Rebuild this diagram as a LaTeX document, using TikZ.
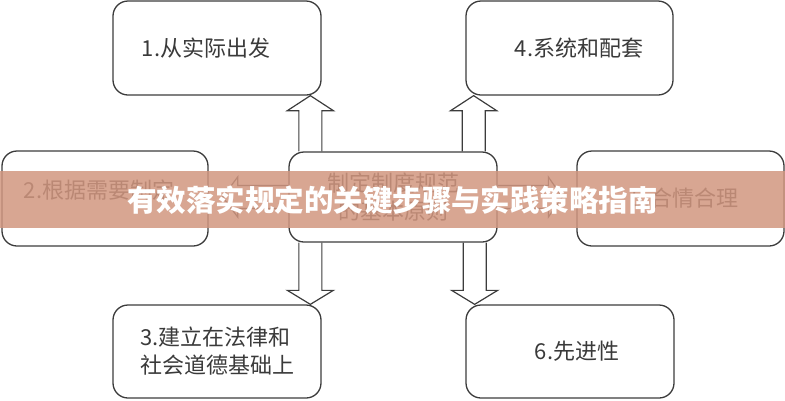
\documentclass[tikz,border=0pt]{standalone}
\usepackage{fontspec}
\setmainfont{Liberation Serif}
\newfontfamily\cjk{Noto Sans CJK SC}
\usetikzlibrary{calc}
\definecolor{ln}{HTML}{3C3C3C}
\definecolor{tx}{HTML}{3A3A3A}
\definecolor{band}{RGB}{209,150,127}
\tikzset{
  box/.style={draw=ln, line width=1.3pt, rounded corners=15pt, minimum width=208pt,
    minimum height=94pt, inner sep=0pt, font=\cjk\fontsize{22}{28}\selectfont, text=tx, align=center},
  barr/.style={draw=ln, line width=1.2pt, line join=miter},
  title/.style={font=\cjk\bfseries\fontsize{29.5}{32}\selectfont, text=white, inner sep=0pt},
}
\newcommand\myUp[2]{\draw[barr] ($(#1)+(-11.5,0)$) -- ($(#2)+(-11.5,15)$) -- ($(#2)+(-23,15)$) -- (#2) -- ($(#2)+(23,15)$) -- ($(#2)+(11.5,15)$) -- ($(#1)+(11.5,0)$);}
\newcommand\myDown[2]{\draw[barr] ($(#1)+(-11.5,0)$) -- ($(#2)+(-11.5,-14)$) -- ($(#2)+(-23,-14)$) -- (#2) -- ($(#2)+(23,-14)$) -- ($(#2)+(11.5,-14)$) -- ($(#1)+(11.5,0)$);}
\newcommand\myLeft[2]{\draw[barr] ($(#1)+(0,-11.5)$) -- ($(#2)+(15,-11.5)$) -- ($(#2)+(15,-20)$) -- (#2) -- ($(#2)+(15,20)$) -- ($(#2)+(15,11.5)$) -- ($(#1)+(0,11.5)$);}
\newcommand\myRight[2]{\draw[barr] ($(#1)+(0,-11.5)$) -- ($(#2)+(-14,-11.5)$) -- ($(#2)+(-14,-20)$) -- (#2) -- ($(#2)+(-14,20)$) -- ($(#2)+(-14,11.5)$) -- ($(#1)+(0,11.5)$);}
\begin{document}
\begin{tikzpicture}[x=1pt,y=-1pt]
\useasboundingbox (0,0) rectangle (785,400);
% boxes
\node[box] (b1) at (217,48) {1.从实际出发\hspace{22pt}};
\node[box, minimum width=207pt] (b4) at (569.5,48) {\hspace{19pt}4.系统和配套};
\node[box, minimum width=206pt, minimum height=95pt] (b2) at (105,198.5) {\raisebox{8pt}[\height][\depth]{2.根据需要制定}\hspace{12pt}};
\node[box, minimum height=90pt] (c) at (393,197) {制定制度规范\\的基本原则};
\node[box, minimum width=207pt, minimum height=95pt] (b5) at (680.5,198.5) {\hspace{9pt}5.合情合理};
\node[box, minimum height=93pt, align=left] (b3) at (217,351.5) {3.建立在法律和\\社会道德基础上};
\node[box, minimum height=93pt] (b6) at (570,351.5) {\hspace{14pt}6.先进性};
% arrow anchor points
\coordinate (u1s) at ([xshift=22pt]c.north west);
\coordinate (u1t) at (u1s |- b1.south);
\coordinate (u2s) at ([xshift=-24pt]c.north east);
\coordinate (u2t) at (u2s |- b4.south);
\coordinate (d1s) at ([xshift=22pt]c.south west);
\coordinate (d1t) at (d1s |- b3.north);
\coordinate (d2s) at ([xshift=-23pt]c.south east);
\coordinate (d2t) at (d2s |- b6.north);
\coordinate (hls) at (c.west);
\coordinate (hl0) at (hls -| b2.east);
\coordinate (hlt) at ([xshift=14pt]hl0);
\coordinate (hrs) at (c.east);
\coordinate (hr0) at (hrs -| b5.west);
\coordinate (hrt) at ([xshift=-14pt]hr0);
% block arrows
\myUp{u1s}{u1t}
\myUp{u2s}{u2t}
\myDown{d1s}{d1t}
\myDown{d2s}{d2t}
\myLeft{hls}{hlt}
\myRight{hrs}{hrt}
% banner
\fill[band, opacity=0.85] (0,171) rectangle (785,228);
\node[title] (t) at (392.5,200) {有效落实规定的关键步骤与实践策略指南};
\end{tikzpicture}
\end{document}
